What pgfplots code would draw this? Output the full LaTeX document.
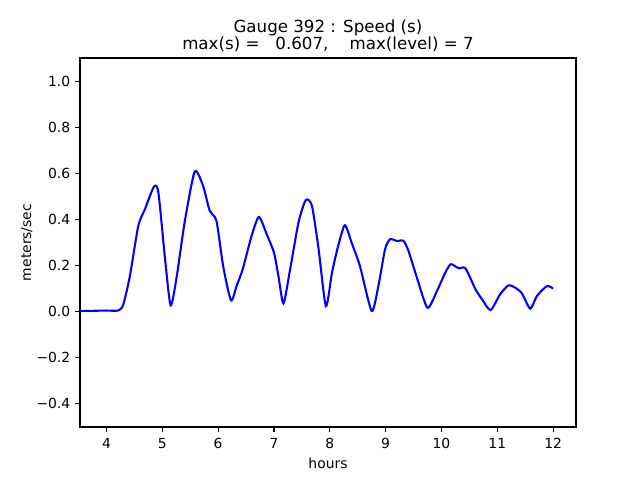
\documentclass[border=0pt]{standalone}
\usepackage{pgfplots}
\pgfplotsset{compat=1.18}
\usepackage{fontspec}
\setmainfont{DejaVu Sans}
\begin{document}
\begin{tikzpicture}
\useasboundingbox (-57.6pt,-38.16pt) rectangle (403.2pt,307.44pt);
\begin{axis}[
  at={(0,0)}, anchor=south west,
  scale only axis, width=357.12pt, height=265.68pt,
  xmin=3.526, xmax=12.41, ymin=-0.5, ymax=1.1,
  xtick={4,5,6,7,8,9,10,11,12},
  ytick={-0.4,-0.2,0,0.2,0.4,0.6,0.8,1.0},
  yticklabels={−0.4,−0.2,0.0,0.2,0.4,0.6,0.8,1.0},
  /pgf/number format/assume math mode=true,
  tick align=outside, tick pos=left,
  major tick length=3.5pt,
  tick style={black, line width=0.8pt},
  axis line style={line width=0.8pt},
  ticklabel style={font=\fontsize{10}{12}\selectfont},
  xticklabel style={yshift=-1pt},
  label style={font=\fontsize{10}{12}\selectfont},
  xlabel={hours}, ylabel={meters/sec},
  xlabel style={yshift=0pt},
  ylabel style={yshift=-4pt},
  title={Gauge 392 : Speed (s)\\max(s) =\ \ \ 0.607,\ \ \ \ max(level) = 7},
  title style={align=center, font=\fontsize{12}{12.5}\selectfont, yshift=-5pt},
]
\addplot[blue, line width=1.5pt, smooth, tension=0.4] coordinates {
(3.54,0.003) (3.8,0.004) (4.0,0.005) (4.21,0.005) (4.30,0.03) (4.42,0.155)
(4.57,0.372) (4.69,0.445) (4.85,0.542) (4.93,0.517) (5.05,0.227) (5.15,0.027)
(5.26,0.155) (5.40,0.387) (5.58,0.607) (5.73,0.546) (5.85,0.437) (5.97,0.394)
(6.09,0.198) (6.23,0.049) (6.33,0.111) (6.44,0.184) (6.60,0.329) (6.73,0.411)
(6.87,0.336) (7.00,0.256) (7.08,0.155) (7.17,0.036) (7.29,0.184) (7.44,0.387)
(7.57,0.484) (7.68,0.459) (7.80,0.271) (7.93,0.024) (8.04,0.17) (8.15,0.285)
(8.27,0.375) (8.39,0.30) (8.54,0.198) (8.75,0.003) (8.87,0.111) (8.99,0.271)
(9.08,0.314) (9.20,0.307) (9.32,0.307) (9.41,0.263) (9.56,0.148) (9.75,0.017)
(9.92,0.090) (10.07,0.170) (10.17,0.206) (10.31,0.188) (10.43,0.188) (10.61,0.097)
(10.73,0.053) (10.88,0.007) (11.05,0.075) (11.20,0.114) (11.32,0.104) (11.44,0.080)
(11.59,0.013) (11.71,0.068) (11.89,0.111) (12.00,0.100)
};
\end{axis}
\end{tikzpicture}
\end{document}
